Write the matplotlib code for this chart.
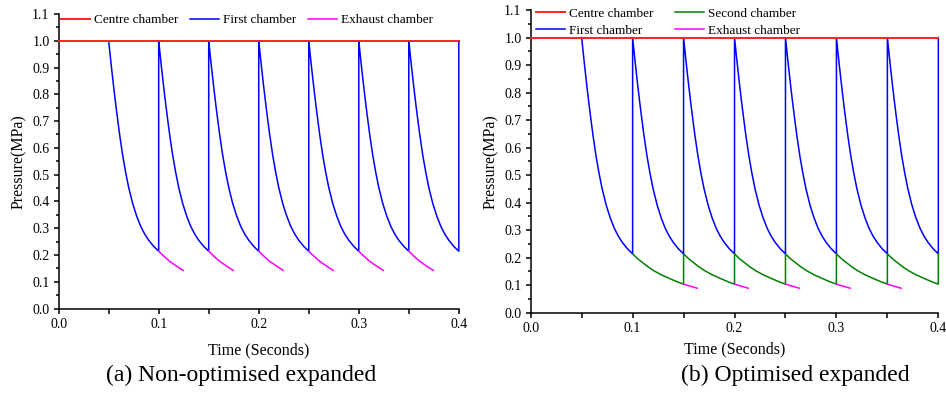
import matplotlib
matplotlib.use('Agg')
import matplotlib.pyplot as plt
import numpy as np

plt.rcParams['font.family'] = ['Liberation Serif', 'DejaVu Serif']

# one cycle of each chamber (time since cycle start, MPa)
first_tau = [0.0, 0.0015, 0.003, 0.005, 0.007, 0.009, 0.011, 0.014, 0.017, 0.020,
             0.024, 0.028, 0.032, 0.036, 0.040, 0.045, 0.05]
first_p = [1.0, 0.946, 0.894, 0.827, 0.764, 0.705, 0.648, 0.572, 0.508, 0.452,
           0.392, 0.345, 0.307, 0.278, 0.255, 0.232, 0.214]

exh_a_tau = [0.0, 0.005, 0.011, 0.018, 0.0245]
exh_a_p = [0.214, 0.196, 0.176, 0.158, 0.142]

second_tau = [0.0, 0.005, 0.0105, 0.015, 0.0206, 0.028, 0.037, 0.044, 0.05]
second_p = [0.214, 0.196, 0.18, 0.167, 0.153, 0.138, 0.123, 0.112, 0.104]

exh_b_tau = [0.0, 0.007, 0.0135]
exh_b_p = [0.104, 0.096, 0.089]

# cycle start times
first_starts = [0.05, 0.10, 0.15, 0.20, 0.25, 0.30, 0.35]
exh_a_starts = [0.10, 0.15, 0.20, 0.25, 0.30, 0.35]
second_starts = [0.10, 0.15, 0.20, 0.25, 0.30, 0.35]
exh_b_starts = [0.15, 0.20, 0.25, 0.30, 0.35]

centre_t = [0.0, 0.4]
centre_p = [1.0, 1.0]
t_end = 0.4


def repeat_cycles(starts, tau, p, end_p=None, gaps=False):
  ts, ps = [], []
  for s in starts:
    ts += [s + x for x in tau]
    ps += list(p)
    if gaps:
      ts.append(np.nan)
      ps.append(np.nan)
  if end_p is not None:
    ts.append(t_end)
    ps.append(end_p)
  return ts, ps


def style_axes(ax, xpad):
  ax.set_xlim(0, 0.4)
  ax.set_ylim(0, 1.1)
  ax.spines['top'].set_visible(False)
  ax.spines['right'].set_visible(False)
  for s in ['left', 'bottom']:
    ax.spines[s].set_linewidth(1.1)
  ax.set_xticks(np.arange(0, 0.41, 0.1))
  ax.set_xticks(np.arange(0.05, 0.4, 0.1), minor=True)
  ax.set_yticks(np.arange(0, 1.11, 0.1))
  ax.set_yticks(np.arange(0.05, 1.1, 0.1), minor=True)
  ax.xaxis.set_major_formatter(matplotlib.ticker.FormatStrFormatter('%.1f'))
  ax.yaxis.set_major_formatter(matplotlib.ticker.FormatStrFormatter('%.1f'))
  ax.tick_params(axis='both', which='major', direction='out', length=3.6, width=1.1,
                 labelsize=10, pad=3)
  ax.tick_params(axis='y', which='minor', direction='out', length=2.0, width=1.1)
  ax.tick_params(axis='x', which='minor', direction='out', length=3.6, width=1.1)
  ax.set_xlabel('Time (Seconds)', fontsize=11.5, labelpad=xpad)
  ax.set_ylabel('Pressure(MPa)', fontsize=11.5, labelpad=4)


fig = plt.figure(figsize=(9.46, 3.94), dpi=100)
ax1 = fig.add_axes([0.062, 0.217, 0.423, 0.7475])
ax2 = fig.add_axes([0.561, 0.2063, 0.4309, 0.7683])

# (a) non-optimised
bt, bp = repeat_cycles(first_starts, first_tau, first_p, end_p=1.0)
mt, mp = repeat_cycles(exh_a_starts, exh_a_tau, exh_a_p, gaps=True)
l_c, = ax1.plot(centre_t, centre_p, color='#ff2020', lw=1.4, zorder=5, clip_on=False,
                label='Centre chamber')
l_f, = ax1.plot(bt, bp, color='#0000ff', lw=1.1, clip_on=False, label='First chamber')
l_e, = ax1.plot(mt, mp, color='#ff00ff', lw=1.1, label='Exhaust chamber')
style_axes(ax1, 8.5)
ax1.legend(handles=[l_c, l_f, l_e], ncol=3, loc='upper left', bbox_to_anchor=(0.005, 1.0),
           frameon=False, fontsize=9.5, handlelength=2.2, handletextpad=0.3,
           columnspacing=0.9, borderpad=0, borderaxespad=0)

# (b) optimised
bt, bp = repeat_cycles(first_starts, first_tau, first_p, end_p=1.0)
gt, gp = repeat_cycles(second_starts, second_tau, second_p, end_p=second_p[0])
mt, mp = repeat_cycles(exh_b_starts, exh_b_tau, exh_b_p, gaps=True)
r_c, = ax2.plot(centre_t, centre_p, color='#ff2020', lw=1.4, zorder=5, clip_on=False,
                label='Centre chamber')
r_f, = ax2.plot(bt, bp, color='#0000ff', lw=1.1, clip_on=False, label='First chamber')
r_s, = ax2.plot(gt, gp, color='#008000', lw=1.1, clip_on=False, label='Second chamber')
r_e, = ax2.plot(mt, mp, color='#ff00ff', lw=1.1, label='Exhaust chamber')
style_axes(ax2, 4.5)
ax2.legend(handles=[r_c, r_f, r_s, r_e], ncol=2, loc='upper left', bbox_to_anchor=(0.012, 1.008),
           frameon=False, fontsize=9.5, handlelength=2.2, handletextpad=0.3,
           columnspacing=1.7, labelspacing=0.38, borderpad=0, borderaxespad=0)

fig.text(241 / 946, 1 - 375 / 394, '(a) Non-optimised expanded', fontsize=17,
         ha='center', va='center')
fig.text(795 / 946, 1 - 375 / 394, '(b) Optimised expanded', fontsize=17,
         ha='center', va='center')

fig.savefig('out.png', dpi=100)
